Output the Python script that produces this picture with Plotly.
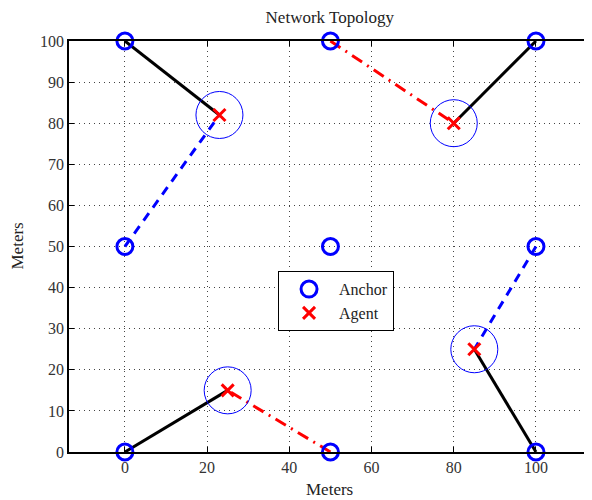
import plotly.graph_objects as go

anchor_x = [0, 50, 100, 0, 50, 100, 0, 50, 100]
anchor_y = [100, 100, 100, 50, 50, 50, 0, 0, 0]
agent_x = [23, 80, 25, 85]
agent_y = [82, 80, 15, 25]

# links: (x0, y0, x1, y1)
solid_links = [(0, 100, 23, 82), (100, 100, 80, 80), (0, 0, 25, 15), (100, 0, 85, 25)]
dash_links = [(0, 50, 23, 82), (100, 50, 85, 25)]
dashdot_links = [(50, 100, 80, 80), (50, 0, 25, 15)]

xticks = [0, 20, 40, 60, 80, 100]
yticks = [0, 10, 20, 30, 40, 50, 60, 70, 80, 90, 100]

FONT = "Liberation Serif"
fig = go.Figure()

def add_links(links, color, dash):
    xs, ys = [], []
    for x0, y0, x1, y1 in links:
        xs += [x0, x1, None]
        ys += [y0, y1, None]
    fig.add_trace(go.Scatter(x=xs, y=ys, mode="lines", showlegend=False, cliponaxis=False,
                             line=dict(color=color, width=3, dash=dash), hoverinfo="skip"))

add_links(solid_links, "black", "solid")
add_links(dash_links, "blue", "9px,7px")
add_links(dashdot_links, "red", "12px,6px,2px,6px")

# range circles around agents
fig.add_trace(go.Scatter(x=agent_x, y=agent_y, mode="markers", showlegend=False, cliponaxis=False,
                         marker=dict(symbol="circle-open", size=47, color="blue",
                                     line=dict(color="blue", width=1))))

fig.add_trace(go.Scatter(x=anchor_x, y=anchor_y, mode="markers", name="Anchor", cliponaxis=False,
                         marker=dict(symbol="circle-open", size=16, color="blue",
                                     line=dict(color="blue", width=3))))
fig.add_trace(go.Scatter(x=agent_x, y=agent_y, mode="markers", name="Agent", cliponaxis=False,
                         marker=dict(symbol="x-thin", size=12, color="red",
                                     line=dict(color="red", width=3))))

axis_common = dict(showline=True, linecolor="black", linewidth=1.5, mirror="ticks",
                   ticks="inside", ticklen=5, tickcolor="black", automargin=False,
                   showgrid=True, gridcolor="#444", gridwidth=1, griddash="1px,4px",
                   zeroline=False, tickfont=dict(family=FONT, size=16, color="#333"))

tfont = dict(family=FONT, size=17, color="#222")
fig.update_layout(
    width=584, height=492,
    margin=dict(l=61, r=3, t=33, b=48),
    paper_bgcolor="white", plot_bgcolor="white",
    title=dict(text="Network Topology", x=0.551, xanchor="center", y=0.982, yanchor="middle",
               font=tfont),
    xaxis=dict(range=[-13.6, 112.9], tickvals=xticks, **axis_common),
    yaxis=dict(range=[0, 100], tickvals=yticks, **axis_common),
    legend=dict(x=0.402, y=0.44, xanchor="left", yanchor="top", itemwidth=50,
                bordercolor="black", borderwidth=1, bgcolor="white",
                font=dict(family=FONT, size=16, color="#222")),
    showlegend=True,
    annotations=[
        dict(text="Meters", xref="paper", yref="paper", x=0.5, y=-0.092,
             xanchor="center", yanchor="middle", showarrow=False, font=tfont),
        dict(text="Meters", xref="paper", yref="paper", x=-0.1, y=0.5, textangle=-90,
             xanchor="center", yanchor="middle", showarrow=False, font=tfont),
    ],
)

fig.write_html("out.html")
